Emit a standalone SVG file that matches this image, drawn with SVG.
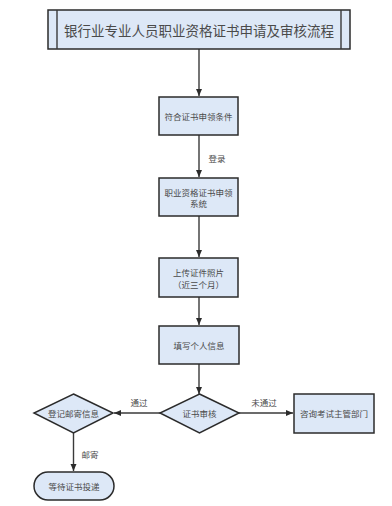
<svg xmlns="http://www.w3.org/2000/svg" width="392" height="506" viewBox="0 0 392 506">
<style>
.box{fill:#dde8f7;stroke:#2b2b2b;stroke-width:1.5}
.ln{stroke:#3a3a3a;stroke-width:1.4;fill:none}
.t{font-family:"Noto Sans CJK SC","Noto Sans CJK JP",sans-serif;font-size:8.5px;fill:#4a4a4a;text-anchor:middle;dominant-baseline:central}
.title{font-family:"Noto Sans CJK SC","Noto Sans CJK JP",sans-serif;font-size:13.5px;fill:#4a4a4a;text-anchor:middle;dominant-baseline:central}
</style>
<defs>
<marker id="ah" markerWidth="8" markerHeight="8" refX="7" refY="4" orient="auto" markerUnits="userSpaceOnUse">
<path d="M0,1 L7,4 L0,7 Z" fill="#2b2b2b"/>
</marker>
</defs>
<rect width="392" height="506" fill="#fff"/>
<g id="connectors">
<line class="ln" x1="199" y1="49" x2="199" y2="96" marker-end="url(#ah)"/>
<line class="ln" x1="199" y1="135" x2="199" y2="177" marker-end="url(#ah)"/>
<text class="t" x="217" y="158">登录</text>
<line class="ln" x1="199" y1="216" x2="199" y2="257" marker-end="url(#ah)"/>
<line class="ln" x1="199" y1="297" x2="199" y2="325" marker-end="url(#ah)"/>
<line class="ln" x1="199" y1="364" x2="199" y2="394" marker-end="url(#ah)"/>
<line class="ln" x1="160" y1="413" x2="114" y2="413" marker-end="url(#ah)"/>
<text class="t" x="139" y="402">通过</text>
<line class="ln" x1="239" y1="413" x2="293" y2="413" marker-end="url(#ah)"/>
<text class="t" x="264" y="402">未通过</text>
<line class="ln" x1="73.5" y1="433" x2="73.5" y2="471" marker-end="url(#ah)"/>
<text class="t" x="90" y="454">邮寄</text>
</g>
<g id="title">
<rect class="box" x="48" y="10" width="302" height="39"/>
<line class="ln" x1="57" y1="10" x2="57" y2="49"/>
<line class="ln" x1="341" y1="10" x2="341" y2="49"/>
<text class="title" x="199" y="29.5">银行业专业人员职业资格证书申请及审核流程</text>
</g>
<g id="n1">
<rect class="box" x="159" y="97" width="79" height="38"/>
<text class="t" x="198.5" y="116">符合证书申领条件</text>
</g>
<g id="n2">
<rect class="box" x="159" y="178" width="79" height="38"/>
<text class="t" x="198.5" y="192">职业资格证书申领</text>
<text class="t" x="198.5" y="203">系统</text>
</g>
<g id="n3">
<rect class="box" x="159" y="258" width="79" height="39"/>
<text class="t" x="198.5" y="272">上传证件照片</text>
<text class="t" x="198.5" y="284">（近三个月）</text>
</g>
<g id="n4">
<rect class="box" x="159" y="326" width="80" height="38"/>
<text class="t" x="199" y="345">填写个人信息</text>
</g>
<g id="review">
<polygon class="box" points="199.5,394 239,413 199.5,433 160,413"/>
<text class="t" x="199.5" y="413">证书审核</text>
</g>
<g id="mail">
<polygon class="box" points="73.5,394 113,413 73.5,433 34,413"/>
<text class="t" x="73.5" y="413">登记邮寄信息</text>
</g>
<g id="consult">
<rect class="box" x="294" y="394" width="80" height="39"/>
<text class="t" x="334" y="413">咨询考试主管部门</text>
</g>
<g id="wait">
<rect class="box" x="34" y="472" width="80" height="28" rx="14" ry="14"/>
<text class="t" x="74" y="486">等待证书投递</text>
</g>
</svg>
